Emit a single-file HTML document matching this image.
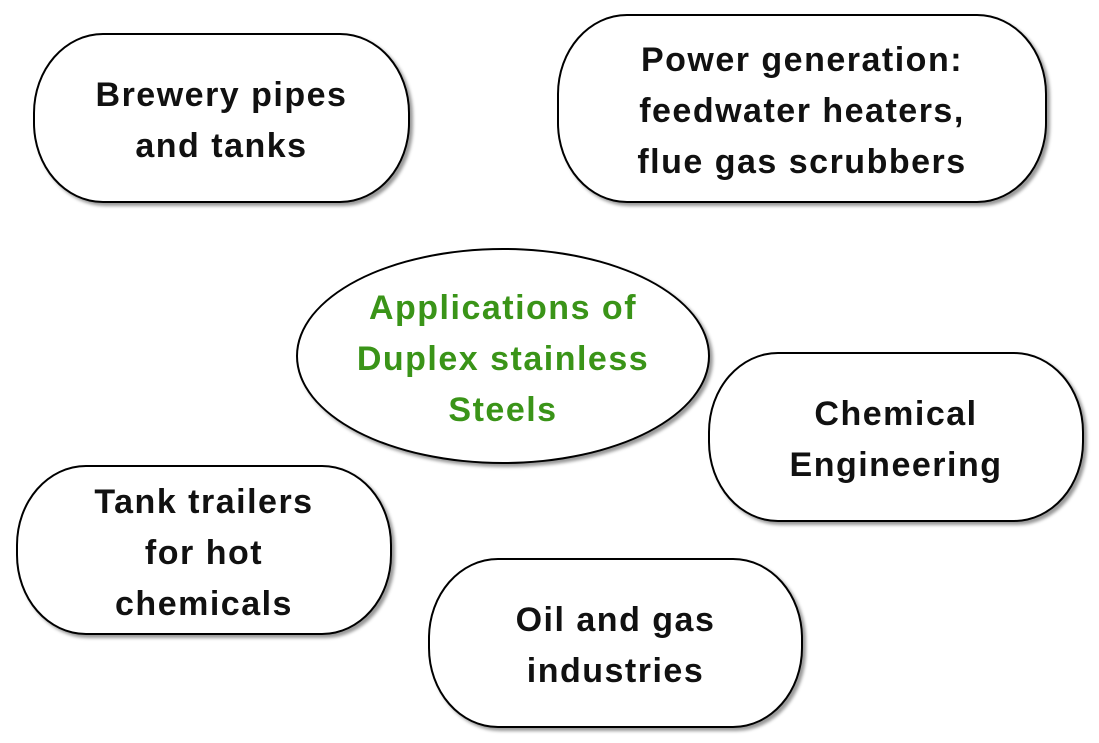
<!DOCTYPE html>
<html><head><style>
body{margin:0;background:#fff;width:1099px;height:743px;overflow:hidden;position:relative;font-family:"Comic Sans MS","Liberation Sans",sans-serif;font-weight:bold}
.b{position:absolute;box-sizing:border-box;border:2px solid #000;border-radius:70px/80px;background:#fff;box-shadow:3px 3px 3px #999;display:flex;align-items:center;justify-content:center;text-align:center;font-size:34px;letter-spacing:1.5px;line-height:51px;color:#111;padding-top:6px}
.e{border-radius:50%;color:#3a9418}
</style></head><body>
<div class="b" style="left:33px;top:33px;width:377px;height:170px">Brewery pipes<br>and tanks</div>
<div class="b" style="left:557px;top:14px;width:490px;height:189px">Power generation:<br>feedwater heaters,<br>flue gas scrubbers</div>
<div class="b e" style="left:296px;top:248px;width:414px;height:216px">Applications of<br>Duplex stainless<br>Steels</div>
<div class="b" style="left:708px;top:352px;width:376px;height:170px">Chemical<br>Engineering</div>
<div class="b" style="left:16px;top:465px;width:376px;height:170px">Tank trailers<br>for hot<br>chemicals</div>
<div class="b" style="left:428px;top:558px;width:375px;height:170px">Oil and gas<br>industries</div>
</body></html>
